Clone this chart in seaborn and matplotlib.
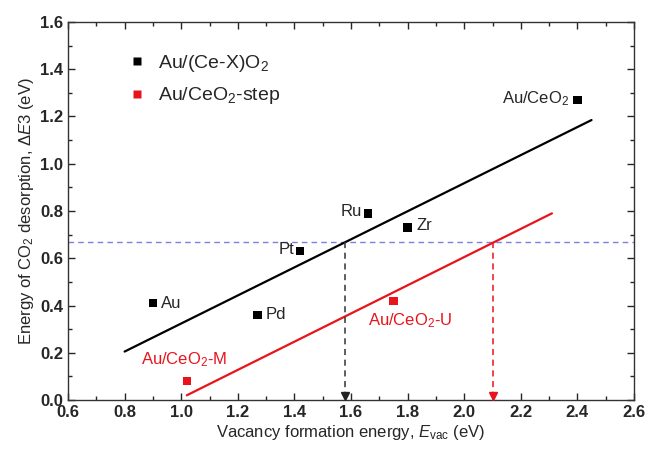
import matplotlib
matplotlib.use("Agg")
import matplotlib.pyplot as plt
import seaborn as sns
import pandas as pd
from matplotlib.ticker import MultipleLocator

# ---- data ----
ce_x_names = ["Au", "Pd", "Pt", "Ru", "Zr", "Au/CeO$_2$"]
ce_x_evac = [0.90, 1.27, 1.42, 1.66, 1.80, 2.40]
ce_x_de3 = [0.41, 0.36, 0.63, 0.79, 0.73, 1.27]

step_names = ["Au/CeO$_2$-M", "Au/CeO$_2$-U"]
step_evac = [1.02, 1.75]
step_de3 = [0.08, 0.42]

fit_black_x = [0.80, 2.45]
fit_black_y = [0.205, 1.185]
fit_red_x = [1.02, 2.31]
fit_red_y = [0.02, 0.79]

threshold_y = 0.67
cross_black_x = 1.58
cross_red_x = 2.10

series_labels = ["Au/(Ce-X)O$_2$", "Au/CeO$_2$-step"]

sns.set_style("ticks")
plt.rcParams["font.family"] = ["Liberation Sans", "DejaVu Sans"]
plt.rcParams["mathtext.fontset"] = "custom"
plt.rcParams["mathtext.rm"] = "Liberation Sans"
plt.rcParams["mathtext.it"] = "Liberation Sans:italic"
plt.rcParams["mathtext.bf"] = "Liberation Sans:bold"

df = pd.DataFrame({
    "Evac": ce_x_evac + step_evac,
    "dE3": ce_x_de3 + step_de3,
    "series": [series_labels[0]] * len(ce_x_evac) + [series_labels[1]] * len(step_evac),
})

fig = plt.figure(figsize=(6.5, 4.51), dpi=100)
ax = fig.add_axes([68 / 650, 1 - 400 / 451, (634 - 68) / 650, (400 - 22) / 451])

# threshold line
ax.axhline(threshold_y, color="#7f7fe0", ls=(0, (4, 3)), lw=1.0, zorder=1)

# fit lines
sns.lineplot(x=fit_black_x, y=fit_black_y, ax=ax, color="black", lw=1.6, zorder=2)
sns.lineplot(x=fit_red_x, y=fit_red_y, ax=ax, color="#e8141c", lw=1.6, zorder=2)

# vertical dashed arrows
ax.plot([cross_black_x, cross_black_x], [threshold_y, 0.02], color="#333333", ls=(0, (4, 3)), lw=1.1, zorder=2)
ax.plot([cross_black_x], [0.018], marker="v", color="#222222", ms=6, zorder=3, clip_on=False)
ax.plot([cross_red_x, cross_red_x], [threshold_y, 0.02], color="#e8141c", ls=(0, (4, 3)), lw=1.1, zorder=2)
ax.plot([cross_red_x], [0.018], marker="v", color="#e8141c", ms=6, zorder=3, clip_on=False)

# scatter points
sns.scatterplot(data=df, x="Evac", y="dE3", hue="series", palette=["black", "#e8141c"],
                marker="s", s=36, edgecolor="none", ax=ax, zorder=4)

# point labels
lab_style = dict(fontsize=12)
ax.text(0.93, 0.41, "Au", ha="left", va="center", **lab_style)
ax.text(1.30, 0.36, "Pd", ha="left", va="center", **lab_style)
ax.text(1.40, 0.635, "Pt", ha="right", va="center", **lab_style)
ax.text(1.64, 0.80, "Ru", ha="right", va="center", **lab_style)
ax.text(1.83, 0.74, "Zr", ha="left", va="center", **lab_style)
ax.text(2.37, 1.275, "Au/CeO$_2$", ha="right", va="center", **lab_style)
ax.text(1.01, 0.17, step_names[0], ha="center", va="center", color="#e8141c", **lab_style)
ax.text(1.81, 0.335, step_names[1], ha="center", va="center", color="#e8141c", **lab_style)

ax.set_xlim(0.6, 2.6)
ax.set_ylim(0.0, 1.6)
ax.xaxis.set_major_locator(MultipleLocator(0.2))
ax.xaxis.set_minor_locator(MultipleLocator(0.1))
ax.yaxis.set_major_locator(MultipleLocator(0.2))
ax.yaxis.set_minor_locator(MultipleLocator(0.1))
ax.tick_params(which="both", direction="in", top=True, right=True, width=1.0)
ax.tick_params(which="major", length=5, labelsize=12)
ax.tick_params(which="minor", length=3)
for lbl in ax.get_xticklabels() + ax.get_yticklabels():
    lbl.set_fontweight("bold")
for sp in ax.spines.values():
    sp.set_linewidth(1.0)
    sp.set_color("#333333")

ax.set_xlabel("Vacancy formation energy, $\\mathit{E}_{\\mathrm{vac}}$ (eV)", fontsize=12, labelpad=2)
ax.set_ylabel("Energy of CO$_2$ desorption, Δ$\\mathit{E}$3 (eV)", fontsize=12, labelpad=3)

leg = ax.legend(loc="upper left", bbox_to_anchor=(0.07, 0.965), frameon=False, fontsize=14,
                handletextpad=0.5, handlelength=1.2, labelspacing=0.6, markerscale=1.0)

fig.savefig("out.png", dpi=100)
